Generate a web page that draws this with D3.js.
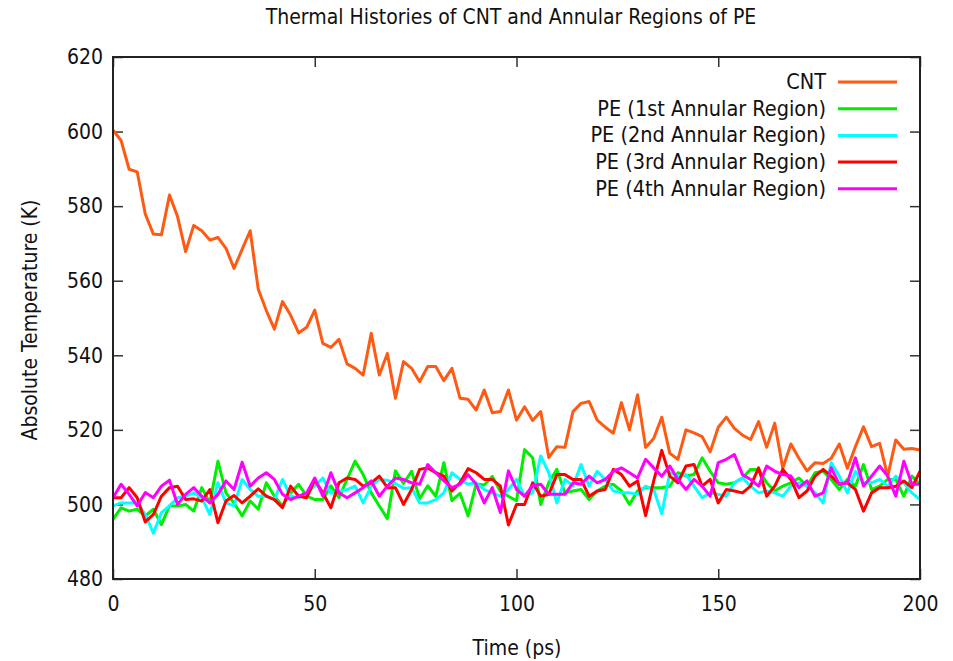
<!DOCTYPE html>
<html lang="en">
    <head>
        <meta charset="utf-8">
        <title>Thermal Histories</title>
        <script src="https://d3js.org/d3.v7.min.js"></script>
        <style type="text/css">
            body{
            margin: 0;
            background: white;
          }
          .lbl{
            font-family: "DejaVu Sans Condensed", "DejaVu Sans", sans-serif;
            fill: #111;
          }
        </style>
    </head>
    <body>
        <script type="text/javascript">
            // time axis (ps)
            const time = [0,2,4,6,8,10,12,14,16,18,20,22,24,26,28,30,32,34,36,38,40,42,44,46,48,50,
                52,54,56,58,60,62,64,66,68,70,72,74,76,78,80,82,84,86,88,90,92,94,96,98,100,
                102,104,106,108,110,112,114,116,118,120,122,124,126,128,130,132,134,136,138,140,142,144,146,148,150,
                152,154,156,158,160,162,164,166,168,170,172,174,176,178,180,182,184,186,188,190,192,194,196,198,200];

            const cnt = [600.4,597.6,589.9,589.2,577.9,572.5,572.3,583.0,577.2,567.8,574.8,573.4,570.9,571.6,568.7,563.3,568.4,573.4,557.7,552.0,547.0,554.4,550.8,546.0,547.5,552.1,
                543.2,542.1,544.3,537.7,536.5,534.7,545.9,534.7,540.5,528.5,538.3,536.5,532.9,537.0,537.0,533.2,536.5,528.5,528.2,525.3,530.7,524.6,524.9,530.7,522.6,
                526.2,522.5,524.9,512.6,515.5,515.3,524.9,527.1,527.6,522.6,520.7,519.1,527.3,520.0,529.4,515.3,517.7,523.4,513.7,512.1,520.0,519.2,518.2,514.1,520.7,
                523.4,520.4,518.6,517.4,522.2,515.3,521.8,509.7,516.2,512.4,509.0,511.2,511.0,512.4,516.2,509.7,515.5,520.8,515.5,516.4,507.6,517.3,514.8,515.0,514.6];

            const pe1 = [496.0,499.1,498.2,498.7,496.9,498.7,494.6,499.6,499.6,500.0,498.2,504.5,500.4,511.6,503.1,500.4,496.9,500.9,498.7,505.8,502.2,499.6,503.1,505.4,502.2,501.3,
                501.3,505.0,501.8,506.7,511.6,508.0,503.1,499.6,496.2,509.0,505.6,508.9,501.5,505.0,502.2,511.2,501.0,503.0,496.9,505.5,505.2,507.5,503.5,502.2,501.0,
                514.7,512.5,500.0,505.8,509.4,503.1,503.6,504.0,501.3,503.6,504.9,505.4,503.6,500.0,503.6,504.5,504.5,504.5,504.9,508.5,507.6,508.0,512.5,508.9,505.8,
                505.4,505.8,507.1,509.4,509.4,505.8,503.6,504.9,505.8,507.1,504.9,508.5,508.9,506.7,504.0,506.7,504.9,510.7,504.0,504.9,506.7,506.7,502.2,507.6,505.4];

            const pe2 = [499.6,500.4,500.4,500.4,497.3,492.3,497.8,499.6,501.8,502.2,503.1,501.8,497.3,505.8,500.4,499.6,506.7,504.0,502.2,502.2,501.3,506.7,502.2,501.8,503.1,504.9,
                507.1,503.0,503.5,504.0,504.9,500.4,504.9,506.7,506.5,505.6,504.3,504.5,500.4,500.4,501.3,503.1,508.5,506.7,505.4,505.8,504.0,503.1,502.2,504.0,506.7,
                502.2,503.1,513.0,508.5,500.4,506.7,504.9,510.7,504.9,508.9,506.7,503.6,503.1,503.1,502.7,504.9,504.0,497.5,508.5,507.6,508.0,504.9,501.8,503.1,502.7,
                502.2,505.8,507.1,504.9,503.1,503.6,503.1,502.2,504.9,505.8,504.9,503.1,500.4,511.2,507.6,503.1,508.9,505.8,505.8,506.7,504.9,507.6,505.8,503.1,501.3];

            const pe3 = [501.8,501.8,504.5,501.8,495.3,497.3,502.2,504.5,504.9,501.3,501.5,500.9,504.0,495.1,500.9,502.4,500.4,502.2,504.2,502.2,501.3,499.1,504.9,502.2,501.8,506.5,
                503.1,499.1,505.8,507.1,506.7,504.9,505.8,507.6,504.5,504.5,500.0,504.0,509.4,509.8,508.5,507.6,503.6,505.8,509.6,508.5,506.7,506.7,504.9,494.5,500.0,
                500.0,505.8,502.2,502.7,508.0,508.0,506.7,506.7,502.2,503.6,504.0,509.4,508.0,504.9,506.3,497.0,506.3,514.5,507.6,505.8,510.3,510.7,504.9,506.7,500.4,
                504.0,503.6,503.1,504.9,509.8,502.2,504.9,509.4,506.7,501.8,503.6,507.6,509.4,507.6,505.4,505.8,504.0,498.2,503.1,504.5,504.5,504.9,506.3,504.5,508.9];

            const pe4 = [501.8,505.4,502.7,499.6,503.2,501.8,504.9,506.5,500.0,502.7,504.5,502.2,500.4,502.7,506.3,504.0,511.3,504.9,507.1,508.5,506.7,502.7,501.3,502.2,503.1,507.1,
                502.2,508.5,503.1,501.8,503.1,504.5,506.3,502.2,504.9,507.1,506.7,505.8,505.4,510.7,508.5,506.3,504.5,505.4,508.0,505.4,500.4,504.5,497.8,509.0,504.0,
                502.2,505.0,505.4,502.7,502.7,502.7,505.8,505.4,507.6,505.8,506.7,508.9,509.8,508.5,507.1,512.1,509.8,507.6,510.3,506.7,504.0,506.7,504.9,502.2,511.2,
                512.1,513.4,508.0,506.7,504.9,510.3,508.9,508.0,507.6,504.5,506.3,502.2,503.1,509.8,505.4,505.8,512.5,504.9,507.6,510.3,507.6,502.2,511.6,505.4,505.4];

            const seriesNames = ["CNT", "PE (1st Annular Region)", "PE (2nd Annular Region)", "PE (3rd Annular Region)", "PE (4th Annular Region)"];
            const seriesValues = [cnt, pe1, pe2, pe3, pe4];
            const seriesColors = ["#ff5a14", "#00ee00", "#00ffff", "#ff0000", "#ff00ff"];

            const xTicks = [0, 50, 100, 150, 200];
            const yTicks = [480, 500, 520, 540, 560, 580, 600, 620];

            //constants
            const w = 953;
            const h = 661;
            const margin = {top: 57, right: 33, bottom: 82, left: 113};

            const svg = d3.select("body")
                          .append("svg")
                          .attr("width", w)
                          .attr("height", h);

            const x = d3.scaleLinear().domain([0, 200]).range([margin.left, w - margin.right]);
            const y = d3.scaleLinear().domain([480, 620]).range([h - margin.bottom, margin.top]);

            //axes, ticks point inward (mirrored on top and right)
            const styleAxis = g => {
                g.select(".domain").remove();
                g.selectAll(".tick line").attr("stroke", "#333").attr("stroke-width", 1.5);
                g.selectAll(".tick text").attr("class", "lbl").attr("font-size", "21px");
            };

            svg.append("g")
               .attr("transform", "translate(0," + (h - margin.bottom) + ")")
               .call(d3.axisBottom(x).tickValues(xTicks).tickSizeInner(-10).tickSizeOuter(0).tickPadding(17))
               .call(styleAxis);

            svg.append("g")
               .attr("transform", "translate(0," + margin.top + ")")
               .call(d3.axisTop(x).tickValues(xTicks).tickSizeInner(-10).tickSizeOuter(0).tickFormat(""))
               .call(styleAxis);

            svg.append("g")
               .attr("transform", "translate(" + margin.left + ",0)")
               .call(d3.axisLeft(y).tickValues(yTicks).tickSizeInner(-10).tickSizeOuter(0).tickPadding(10))
               .call(styleAxis);

            svg.append("g")
               .attr("transform", "translate(" + (w - margin.right) + ",0)")
               .call(d3.axisRight(y).tickValues(yTicks).tickSizeInner(-10).tickSizeOuter(0).tickFormat(""))
               .call(styleAxis);

            //lines
            const line = d3.line()
                           .x((d, i) => x(time[i]))
                           .y(d => y(d));

            svg.selectAll("path.series")
               .data(seriesValues)
               .enter()
               .append("path")
               .attr("class", "series")
               .attr("fill", "none")
               .attr("stroke", (d, i) => seriesColors[i])
               .attr("stroke-width", 3)
               .attr("stroke-linejoin", "round")
               .attr("d", line);

            //frame
            svg.append("rect")
               .attr("x", margin.left)
               .attr("y", margin.top)
               .attr("width", w - margin.left - margin.right)
               .attr("height", h - margin.top - margin.bottom)
               .attr("fill", "none")
               .attr("stroke", "#222")
               .attr("stroke-width", 2);

            //legend
            const legend = svg.selectAll("g.legend")
                              .data(seriesNames)
                              .enter()
                              .append("g")
                              .attr("class", "legend")
                              .attr("transform", (d, i) => "translate(0," + (82 + i * 26.7) + ")");

            legend.append("text")
                  .attr("class", "lbl")
                  .attr("x", 826)
                  .attr("y", 7)
                  .attr("text-anchor", "end")
                  .attr("font-size", "21.5px")
                  .text(d => d);

            legend.append("line")
                  .attr("x1", 838)
                  .attr("x2", 897)
                  .attr("stroke", (d, i) => seriesColors[i])
                  .attr("stroke-width", 3);

            //title and axis labels
            svg.append("text")
               .attr("class", "lbl")
               .attr("x", 511)
               .attr("y", 24)
               .attr("text-anchor", "middle")
               .attr("font-size", "21px")
               .text("Thermal Histories of CNT and Annular Regions of PE");

            svg.append("text")
               .attr("class", "lbl")
               .attr("x", 517)
               .attr("y", 655)
               .attr("text-anchor", "middle")
               .attr("font-size", "21px")
               .text("Time (ps)");

            svg.append("text")
               .attr("class", "lbl")
               .attr("transform", "translate(37,320) rotate(-90)")
               .attr("text-anchor", "middle")
               .attr("font-size", "21px")
               .text("Absolute Temperature (K)");

        </script>
    </body>
</html>
